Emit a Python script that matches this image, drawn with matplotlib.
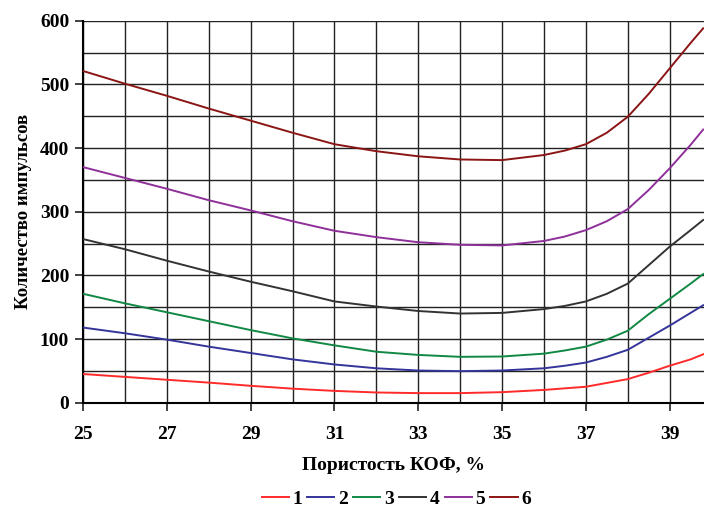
import matplotlib.pyplot as plt
import numpy as np

plt.rcParams['font.family'] = ['Liberation Serif', 'DejaVu Serif']
plt.rcParams['font.weight'] = 'bold'

# porosity, %
x = [25, 26, 27, 28, 29, 30, 31, 32, 33, 34, 35, 36, 36.5, 37, 37.5, 38, 38.5, 39, 39.5, 39.8]

s1 = [45, 40.5, 36, 31.5, 26.5, 22, 18.5, 16, 15, 15, 16.5, 20, 22.5, 25, 31, 37, 47, 58, 68, 76]
s2 = [118, 109, 99, 88, 78, 68, 60, 54, 50.5, 49.5, 50.5, 54, 58, 63, 72, 83, 102, 121, 141, 153]
s3 = [171, 156, 142, 128, 114, 101, 90, 80, 75, 72, 72.5, 77, 82, 88, 99, 113, 139, 163, 187, 202]
s4 = [257, 241, 223, 206, 190, 175, 159, 151, 144, 140, 141, 147, 152, 159, 171, 187, 216, 245, 271, 287]
s5 = [370, 353, 336, 318, 302, 285, 270, 260, 252, 248, 247, 254, 261, 271, 285, 304, 334, 368, 405, 429]
s6 = [521, 501, 482, 462, 443, 424, 406, 395, 387, 382, 381, 389, 396, 406, 424, 449, 485, 525, 565, 588]

series = [s1, s2, s3, s4, s5, s6]
labels = ['1', '2', '3', '4', '5', '6']
colors = ['#FF2a2a', '#34349a', '#118844', '#333333', '#8e2f9a', '#8b1414']

fig = plt.figure(figsize=(7.04, 5.11), dpi=100)
ax = fig.add_axes([0.118, 0.212, 0.882, 0.7475])

for ys, lb, c in zip(series, labels, colors):
    ax.plot(x, ys, color=c, lw=1.4, label=lb, zorder=3)

ax.set_xlim(25, 39.82)
ax.set_ylim(0, 600)
ax.set_xticks(np.arange(25, 40, 2))
ax.set_yticks(np.arange(0, 601, 100))
ax.set_xticks(np.arange(25, 40, 1), minor=True)
ax.set_yticks(np.arange(0, 601, 50), minor=True)
ax.tick_params(which='minor', length=0)
ax.tick_params(which='major', length=6, width=1.2, labelsize=14, direction='out', color='#222222')
ax.tick_params(axis='x', which='major', pad=11)
ax.tick_params(axis='y', which='major', pad=4)
for t in ax.get_xticklabels() + ax.get_yticklabels():
    t.set_fontweight('bold')
ax.grid(which='both', color='#222222', lw=1.0, zorder=1)

for side in ['right', 'top']:
    ax.spines[side].set_visible(False)
ax.spines['left'].set_linewidth(1.5)
ax.spines['bottom'].set_linewidth(1.5)

ax.set_xlabel('Пористость КОФ, %', fontsize=14, fontweight='bold', labelpad=10)
ax.set_ylabel('Количество импульсов', fontsize=13.5, fontweight='bold')
ax.yaxis.set_label_coords(-0.082, 0.5)

fig.legend(loc='lower center', bbox_to_anchor=(0.563, 0.0), ncol=6, frameon=False,
           handlelength=1.4, handletextpad=0.2, columnspacing=0.25,
           borderaxespad=0.0, borderpad=0.15,
           prop={'size': 14, 'weight': 'bold'})

plt.savefig('out.png', dpi=100)
